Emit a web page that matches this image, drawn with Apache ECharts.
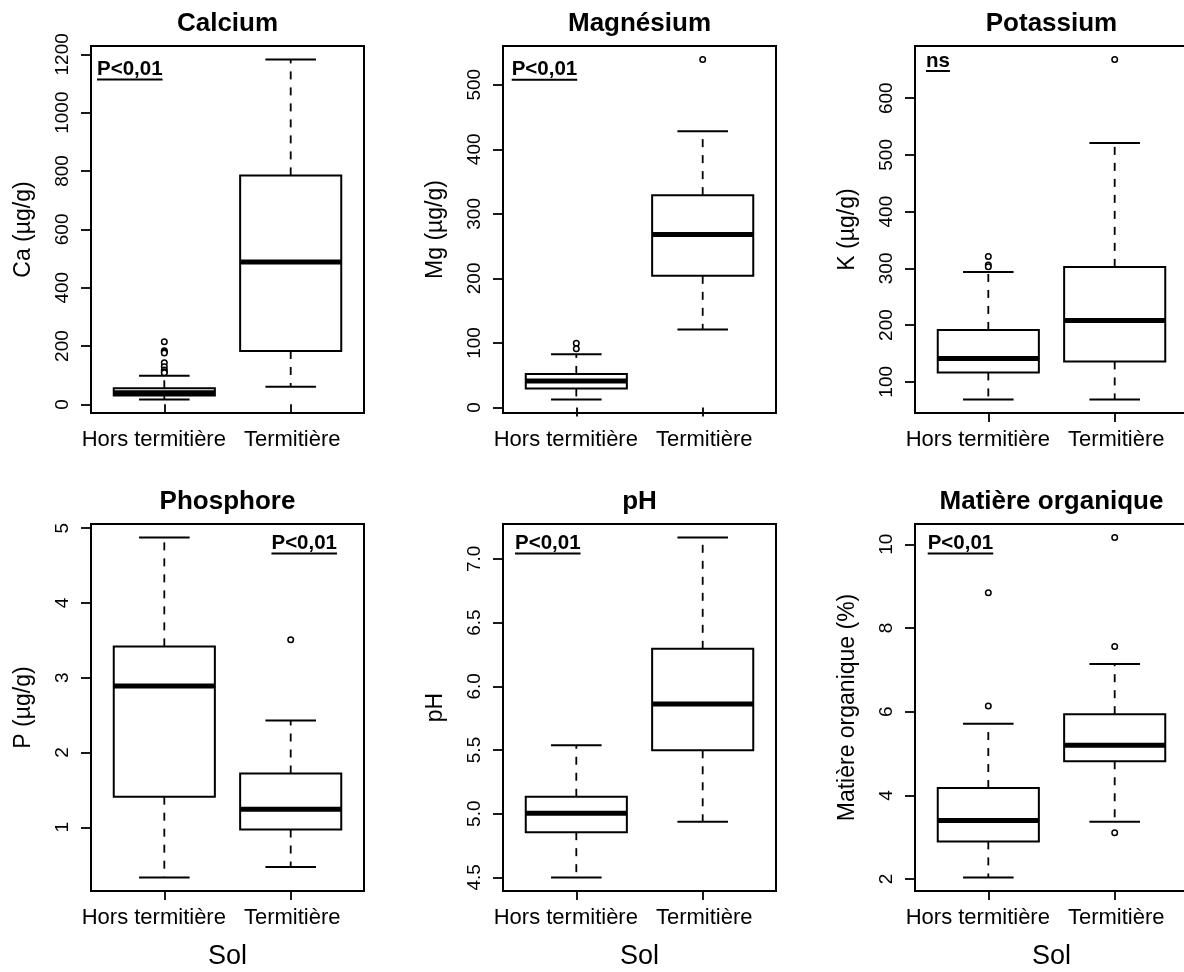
<!DOCTYPE html>
<html>
<head>
<meta charset="utf-8">
<script src="https://cdn.jsdelivr.net/npm/echarts@6/dist/echarts.min.js"></script>
<style>
html,body{margin:0;padding:0;background:#fff;}
#c{width:1184px;height:972px;}
</style>
</head>
<body>
<div id="c"></div>
<script>
// ---------- DATA ----------
const categories = ['Hors termitière', 'Termitière'];
const titles = ['Calcium', 'Magnésium', 'Potassium', 'Phosphore', 'pH', 'Matière organique'];
const yNames = ['Ca (µg/g)', 'Mg (µg/g)', 'K (µg/g)', 'P (µg/g)', 'pH', 'Matière organique (%)'];
const sigLabels = ['P<0,01', 'P<0,01', 'ns', 'P<0,01', 'P<0,01', 'P<0,01'];
const xAxisTitle = 'Sol';

// box stats per category: [lower whisker, Q1, median, Q3, upper whisker]
const caStats = [[17, 30, 40, 55, 98], [60, 183, 488, 785, 1182]];
const caOutliers = [[215, 184, 180, 176, 143, 129, 118, 112, 108], []];
const mgStats = [[12.5, 29.5, 41, 52, 82.5], [121, 204, 268, 329, 428]];
const mgOutliers = [[99.5, 91], [539]];
const kStats = [[69, 116.6, 141, 191.5, 293.5], [69, 136, 208, 302.6, 521]];
const kOutliers = [[321, 306, 303], [668]];
const pStats = [[0.33, 1.41, 2.89, 3.42, 4.875], [0.47, 0.97, 1.24, 1.72, 2.43]];
const pOutliers = [[], [3.51]];
const phStats = [[4.5, 4.855, 5.004, 5.133, 5.538], [4.937, 5.498, 5.861, 6.294, 7.167]];
const phOutliers = [[], []];
const moStats = [[2.04, 2.90, 3.40, 4.175, 5.71], [3.37, 4.815, 5.20, 5.94, 7.14]];
const moOutliers = [[8.84, 6.135], [10.16, 7.56, 3.11]];

// y tick values and labels
const caTicks = [0, 200, 400, 600, 800, 1000, 1200];
const caTickLabels = ['0', '200', '400', '600', '800', '1000', '1200'];
const mgTicks = [0, 100, 200, 300, 400, 500];
const mgTickLabels = ['0', '100', '200', '300', '400', '500'];
const kTicks = [100, 200, 300, 400, 500, 600];
const kTickLabels = ['100', '200', '300', '400', '500', '600'];
const pTicks = [1, 2, 3, 4, 5];
const pTickLabels = ['1', '2', '3', '4', '5'];
const phTicks = [4.5, 5.0, 5.5, 6.0, 6.5, 7.0];
const phTickLabels = ['4.5', '5.0', '5.5', '6.0', '6.5', '7.0'];
const moTicks = [2, 4, 6, 8, 10];
const moTickLabels = ['2', '4', '6', '8', '10'];

// ---------- LAYOUT / STYLE ----------
const FONT = '"Liberation Sans", Arial, Helvetica, sans-serif';
const colLeft = [91, 503, 915];
const rowTop = [46, 524];
const GW = 273, GH = 367;
// annotation placement relative to grid: [dx, dy(cap middle), align]
const sigPlace = [
  [6, 23.5, 'left'], [8.7, 23.7, 'left'], [11, 15.5, 'left'],
  [246, 19.3, 'right'], [12, 19.3, 'left'], [12.7, 19.3, 'left']
];
const underlineDy = [10, 10, 9.5, 10.2, 10.2, 10.2];

const panels = [
  {stats: caStats, out: caOutliers, ticks: caTicks, labels: caTickLabels},
  {stats: mgStats, out: mgOutliers, ticks: mgTicks, labels: mgTickLabels},
  {stats: kStats, out: kOutliers, ticks: kTicks, labels: kTickLabels},
  {stats: pStats, out: pOutliers, ticks: pTicks, labels: pTickLabels},
  {stats: phStats, out: phOutliers, ticks: phTicks, labels: phTickLabels},
  {stats: moStats, out: moOutliers, ticks: moTicks, labels: moTickLabels}
];

function yRange(stats, outl) {
  const vals = stats.flat().concat(outl.flat());
  const lo = Math.min.apply(null, vals), hi = Math.max.apply(null, vals);
  const e = (hi - lo) * 0.04;
  return [lo - e, hi + e];
}

const measureCtx = document.createElement('canvas').getContext('2d');
function textWidth(txt, font) { measureCtx.font = font; return measureCtx.measureText(txt).width; }

function renderBox(params, api) {
  const x = api.value(0);
  const low = api.value(1), q1 = api.value(2), med = api.value(3), q3 = api.value(4), high = api.value(5);
  const hw = 0.4, cw = 0.2;
  const a = api.coord([x - hw, q3]);
  const b = api.coord([x + hw, q1]);
  const m1 = api.coord([x - hw, med]), m2 = api.coord([x + hw, med]);
  const c = api.coord([x, 0])[0];
  const yHigh = api.coord([x, high])[1], yLow = api.coord([x, low])[1];
  const cl = api.coord([x - cw, high])[0], cr = api.coord([x + cw, high])[0];
  const dash = [8, 8];
  return {
    type: 'group',
    children: [
      {type: 'line', shape: {x1: c, y1: a[1], x2: c, y2: yHigh}, style: {stroke: '#000', lineWidth: 1.8, lineDash: dash}},
      {type: 'line', shape: {x1: c, y1: b[1], x2: c, y2: yLow}, style: {stroke: '#000', lineWidth: 1.8, lineDash: dash}},
      {type: 'line', shape: {x1: cl, y1: yHigh, x2: cr, y2: yHigh}, style: {stroke: '#000', lineWidth: 2}},
      {type: 'line', shape: {x1: cl, y1: yLow, x2: cr, y2: yLow}, style: {stroke: '#000', lineWidth: 2}},
      {type: 'rect', shape: {x: a[0], y: a[1], width: b[0] - a[0], height: b[1] - a[1]}, style: {fill: '#fff', stroke: '#000', lineWidth: 2}},
      {type: 'line', shape: {x1: m1[0], y1: m1[1], x2: m2[0], y2: m2[1]}, style: {stroke: '#000', lineWidth: 5}}
    ]
  };
}

const grid = [], xAxis = [], yAxis = [], series = [], graphic = [];
panels.forEach(function (p, i) {
  const r = Math.floor(i / 3), col = i % 3;
  const left = colLeft[col], top = rowTop[r];
  grid.push({left: left, top: top, width: GW, height: GH, show: true, borderColor: '#000', borderWidth: 2,
    backgroundColor: 'transparent', outerBoundsMode: 'none', containLabel: false});
  xAxis.push({
    type: 'value', gridIndex: i, min: 0.42, max: 2.58,
    name: r === 1 ? xAxisTitle : '', nameLocation: 'middle', nameGap: 52,
    nameTextStyle: {fontFamily: FONT, fontSize: 27, color: '#000'},
    axisLine: {show: false},
    splitLine: {show: false},
    axisTick: {show: true, customValues: [1, 2], length: 9, lineStyle: {color: '#000', width: 1.8}},
    axisLabel: {customValues: [1, 2], margin: 16, fontFamily: FONT, fontSize: 22, color: '#000',
      formatter: function (v) { return Math.round(v) === 1 ? '{a|' + categories[0] + '}' : '{b|' + categories[1] + '}'; },
      rich: {
        a: {fontFamily: FONT, fontSize: 22, color: '#000', padding: [0, 21, 0, 0]},
        b: {fontFamily: FONT, fontSize: 22, color: '#000', padding: [0, 0, 0, 3]}
      }}
  });
  const yr = yRange(p.stats, p.out);
  yAxis.push({
    type: 'value', gridIndex: i, min: yr[0], max: yr[1],
    name: yNames[i], nameLocation: 'middle', nameGap: 56, nameRotate: 90,
    nameTextStyle: {fontFamily: FONT, fontSize: 23, color: '#000'},
    axisLine: {show: false},
    splitLine: {show: false},
    axisTick: {show: true, customValues: p.ticks, length: 10, lineStyle: {color: '#000', width: 1.8}},
    axisLabel: {customValues: p.ticks, rotate: 90, margin: 19, fontFamily: FONT, fontSize: 19, color: '#000',
      formatter: function (v) {
        for (let k = 0; k < p.ticks.length; k++) if (Math.abs(p.ticks[k] - v) < 1e-9) return p.labels[k];
        return '';
      }}
  });
  const boxData = p.stats.map(function (s, k) { return [k + 1].concat(s); });
  series.push({
    type: 'custom', xAxisIndex: i, yAxisIndex: i, renderItem: renderBox,
    encode: {x: 0, y: [1, 2, 3, 4, 5]}, data: boxData, silent: true, clip: false
  });
  const outData = [];
  p.out.forEach(function (arr, k) { arr.forEach(function (v) { outData.push([k + 1, v]); }); });
  series.push({
    type: 'scatter', xAxisIndex: i, yAxisIndex: i, data: outData, symbol: 'circle', symbolSize: 5.5,
    itemStyle: {color: '#fff', borderColor: '#000', borderWidth: 1.5, opacity: 1}, silent: true, z: 5
  });
  // title
  graphic.push({type: 'text', x: left + GW / 2, y: top - 22,
    style: {text: titles[i], font: 'bold 26px ' + FONT, fill: '#000', align: 'center', verticalAlign: 'middle'}});
  // significance annotation
  const sp = sigPlace[i];
  const sfont = 'bold 20.5px ' + FONT;
  const tx = left + sp[0], ty = top + sp[1];
  graphic.push({type: 'text', x: tx, y: ty,
    style: {text: sigLabels[i], font: sfont, fill: '#000', align: sp[2], verticalAlign: 'middle'}});
  const w = textWidth(sigLabels[i], sfont);
  const x1 = sp[2] === 'left' ? tx : tx - w;
  graphic.push({type: 'line', shape: {x1: x1, y1: ty + underlineDy[i], x2: x1 + w, y2: ty + underlineDy[i]},
    style: {stroke: '#000', lineWidth: 2}});
});

const chart = echarts.init(document.getElementById('c'), null, {renderer: 'canvas'});
chart.setOption({
  animation: false,
  backgroundColor: '#fff',
  grid: grid, xAxis: xAxis, yAxis: yAxis, series: series, graphic: graphic
});
</script>
</body>
</html>
